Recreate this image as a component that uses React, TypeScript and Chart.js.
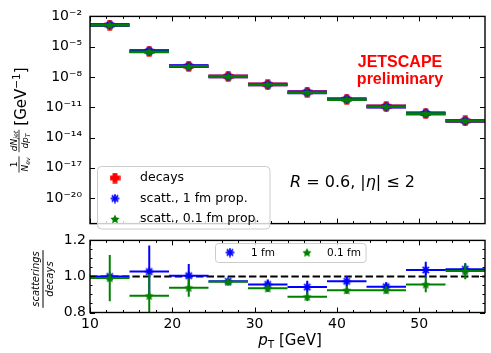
import React, { useEffect, useRef } from 'react';
import { Chart, registerables } from 'chart.js';

Chart.register(...registerables);

const FONT = '"DejaVu Sans", sans-serif';

// ---- data ----
const binLow = [10, 14.8, 19.6, 24.4, 29.2, 34.0, 38.8, 43.6, 48.4, 53.2];
const binHigh = [14.8, 19.6, 24.4, 29.2, 34.0, 38.8, 43.6, 48.4, 53.2, 58.0];
const binCenter = [12.4, 17.2, 22.0, 26.8, 31.6, 36.4, 41.2, 46.0, 50.8, 55.6];

const spectrumDecays = [1.4e-3, 3.5e-6, 1.17e-7, 1.15e-8, 1.86e-9, 3.2e-10, 6.3e-11, 1.23e-11, 2.4e-12, 4.5e-13];
const ratio1fm = [1.0, 1.027, 1.004, 0.973, 0.956, 0.941, 0.973, 0.943, 1.036, 1.04];
const ratio1fmErr = [0.01, 0.145, 0.065, 0.012, 0.025, 0.035, 0.03, 0.025, 0.045, 0.03];
const ratio01fm = [0.991, 0.893, 0.938, 0.97, 0.934, 0.888, 0.924, 0.924, 0.956, 1.03];
const ratio01fmErr = [0.128, 0.12, 0.05, 0.015, 0.02, 0.024, 0.022, 0.02, 0.043, 0.045];

const xRange = [10, 58];
const xMajorTicks = [10, 20, 30, 40, 50];
const xTickLabels = ['10', '20', '30', '40', '50'];
const xMinorTicks = [12, 14, 16, 18, 22, 24, 26, 28, 32, 34, 36, 38, 42, 44, 46, 48, 52, 54, 56];

const yTopRange = [3e-23, 1e-2];
const yTopTicks = [1e-2, 1e-5, 1e-8, 1e-11, 1e-14, 1e-17, 1e-20];
const yTopTickLabels = ['10⁻²', '10⁻⁵', '10⁻⁸', '10⁻¹¹', '10⁻¹⁴', '10⁻¹⁷', '10⁻²⁰'];

const yRatioRange = [0.8, 1.2];
const yRatioTicks = [0.8, 1.0, 1.2];
const yRatioTickLabels = ['0.8', '1.0', '1.2'];
const yRatioMinorTicks = [0.85, 0.9, 0.95, 1.05, 1.1, 1.15];
const ratioReference = [1.0, 1.0];

const legendTop = ['decays', 'scatt., 1 fm prop.', 'scatt., 0.1 fm prop.'];
const legendBottom = ['1 fm', '0.1 fm'];

const RED = '#ff0000';
const BLUE = '#0000ff';
const GREEN = '#008000';

// ---- helpers ----
type Run = { t: string; size: number; italic?: boolean; bold?: boolean; dy?: number };
const fontOf = (r: Run) => `${r.italic ? 'italic ' : ''}${r.bold ? 'bold ' : ''}${r.size}px ${FONT}`;
function runsWidth(ctx: CanvasRenderingContext2D, runs: Run[]) {
  let w = 0;
  for (const r of runs) { ctx.font = fontOf(r); w += ctx.measureText(r.t).width; }
  return w;
}
function drawRuns(ctx: CanvasRenderingContext2D, runs: Run[], x: number, y: number, center = false) {
  const total = runsWidth(ctx, runs);
  let cx = center ? x - total / 2 : x;
  ctx.textAlign = 'left';
  ctx.textBaseline = 'alphabetic';
  for (const r of runs) {
    ctx.font = fontOf(r);
    ctx.fillText(r.t, cx, y + (r.dy ?? 0));
    cx += ctx.measureText(r.t).width;
  }
  return total;
}
function fracWidth(ctx: CanvasRenderingContext2D, num: Run[], den: Run[]) {
  return Math.max(runsWidth(ctx, num), runsWidth(ctx, den)) + 2;
}
function drawFrac(ctx: CanvasRenderingContext2D, num: Run[], den: Run[], x: number, gapN: number, gapD: number, lw: number) {
  const w = fracWidth(ctx, num, den);
  drawRuns(ctx, num, x + w / 2, -gapN, true);
  drawRuns(ctx, den, x + w / 2, gapD, true);
  ctx.lineWidth = lw;
  ctx.beginPath(); ctx.moveTo(x, 0); ctx.lineTo(x + w, 0); ctx.stroke();
  return w;
}

function mk(size: number, draw: (g: CanvasRenderingContext2D, s: number) => void) {
  const c = document.createElement('canvas');
  c.width = size; c.height = size;
  draw(c.getContext('2d')!, size);
  return c;
}
function plusFilled(size: number, color: string) {
  return mk(size, (g, s) => {
    const c = s / 2, h = s * 0.22, r = s / 2 - 0.3;
    g.fillStyle = color;
    g.fillRect(c - h, c - r, 2 * h, 2 * r);
    g.fillRect(c - r, c - h, 2 * r, 2 * h);
  });
}
function asterisk(size: number, color: string) {
  return mk(size, (g, s) => {
    const c = s / 2, r = s / 2 - 0.6;
    g.strokeStyle = color; g.lineWidth = 1.7;
    for (let k = 0; k < 4; k++) {
      const a = (k * Math.PI) / 4;
      g.beginPath();
      g.moveTo(c - r * Math.cos(a), c - r * Math.sin(a));
      g.lineTo(c + r * Math.cos(a), c + r * Math.sin(a));
      g.stroke();
    }
  });
}
function starFilled(size: number, color: string) {
  return mk(size, (g, s) => {
    const c = s / 2, R = s / 2 - 0.2, r = R * 0.5;
    g.fillStyle = color;
    g.beginPath();
    for (let k = 0; k < 10; k++) {
      const a = -Math.PI / 2 + (k * Math.PI) / 5;
      const rr = k % 2 === 0 ? R : r;
      const x = c + rr * Math.cos(a), y = c + rr * Math.sin(a) + s * 0.04;
      if (k === 0) g.moveTo(x, y); else g.lineTo(x, y);
    }
    g.closePath();
    g.fill();
  });
}

function hSeg(lo: number[], hi: number[], y: number[]) {
  const out: any[] = [];
  y.forEach((v, i) => { out.push({ x: lo[i], y: v }, { x: hi[i], y: v }, { x: hi[i], y: null }); });
  return out;
}
function vSeg(x: number[], y: number[], e: number[]) {
  const out: any[] = [];
  y.forEach((v, i) => { out.push({ x: x[i], y: v - e[i] }, { x: x[i], y: v + e[i] }, { x: x[i], y: null }); });
  return out;
}
function pts(x: number[], y: number[]) {
  return y.map((v, i) => ({ x: x[i], y: v }));
}

function framePlugin(id: string, yMajor: number[], yMinor: number[]) {
  return {
    id,
    afterDraw(chart: any) {
      const { ctx, chartArea: a, scales } = chart;
      const xs = scales.x, ys = scales.y;
      ctx.save();
      ctx.strokeStyle = '#000';
      ctx.lineWidth = 1;
      const seg = (x1: number, y1: number, x2: number, y2: number) => {
        ctx.beginPath(); ctx.moveTo(x1, y1); ctx.lineTo(x2, y2); ctx.stroke();
      };
      const xt = (vals: number[], len: number) => vals.forEach((v) => {
        const p = Math.round(xs.getPixelForValue(v)) + 0.5;
        seg(p, a.top, p, a.top + len); seg(p, a.bottom, p, a.bottom - len);
      });
      const yt = (vals: number[], len: number) => vals.forEach((v) => {
        const p = Math.round(ys.getPixelForValue(v)) + 0.5;
        seg(a.left, p, a.left + len, p); seg(a.right, p, a.right - len, p);
      });
      xt(xMajorTicks, 5); xt(xMinorTicks, 2.5);
      yt(yMajor, 5); yt(yMinor, 2.5);
      ctx.lineWidth = 1.4;
      ctx.strokeRect(a.left, a.top, a.right - a.left, a.bottom - a.top);
      ctx.restore();
    },
  };
}

function roundRect(ctx: CanvasRenderingContext2D, x: number, y: number, w: number, h: number, r: number) {
  ctx.beginPath();
  ctx.moveTo(x + r, y);
  ctx.arcTo(x + w, y, x + w, y + h, r);
  ctx.arcTo(x + w, y + h, x, y + h, r);
  ctx.arcTo(x, y + h, x, y, r);
  ctx.arcTo(x, y, x + w, y, r);
  ctx.closePath();
}

export default function App() {
  const topRef = useRef<HTMLCanvasElement>(null);
  const botRef = useRef<HTMLCanvasElement>(null);

  useEffect(() => {
    const mRed = plusFilled(11, RED);
    const mBlue = asterisk(10, BLUE);
    const mGreen = starFilled(10, GREEN);

    const spectrum1fm = spectrumDecays.map((d, i) => d * ratio1fm[i]);
    const spectrum01fm = spectrumDecays.map((d, i) => d * ratio01fm[i]);

    const commonX = {
      type: 'linear' as const,
      min: xRange[0],
      max: xRange[1],
    };

    const topText = {
      id: 'topText',
      afterDraw(chart: any) {
        const ctx: CanvasRenderingContext2D = chart.ctx;
        ctx.save();
        ctx.fillStyle = RED;
        ctx.textAlign = 'center';
        ctx.textBaseline = 'alphabetic';
        ctx.font = 'bold 16px "Liberation Sans", Arial, sans-serif';
        ctx.fillText('JETSCAPE', 400, 66.7);
        ctx.fillText('preliminary', 400, 84);
        ctx.fillStyle = '#000';
        ctx.strokeStyle = '#000';
        drawRuns(ctx, [
          { t: 'R', size: 16, italic: true },
          { t: ' = 0.6, |', size: 16 },
          { t: 'η', size: 16, italic: true },
          { t: '| ≤ 2', size: 16 },
        ], 290, 186.7);

        // y title (rotated)
        ctx.save();
        ctx.translate(19, 120);
        ctx.rotate(-Math.PI / 2);
        const numA: Run[] = [{ t: '1', size: 9 }];
        const denA: Run[] = [{ t: 'N', size: 9, italic: true }, { t: 'ev', size: 6.3, italic: true, dy: 1.6 }];
        const numB: Run[] = [{ t: 'dN', size: 9, italic: true }, { t: 'jet', size: 6.3, italic: true, dy: 1.6 }];
        const denB: Run[] = [{ t: 'dp', size: 9, italic: true }, { t: 'T', size: 6.3, italic: true, dy: 1.6 }];
        const unit: Run[] = [{ t: '[GeV', size: 15 }, { t: '−1', size: 10.5, dy: -6 }, { t: ']', size: 15 }];
        const wA = fracWidth(ctx, numA, denA);
        const wB = fracWidth(ctx, numB, denB);
        const wU = runsWidth(ctx, unit);
        const total = wA + 4 + wB + 4 + wU;
        let x0 = -total / 2;
        drawFrac(ctx, numA, denA, x0, 2.5, 9, 0.8);
        x0 += wA + 4;
        drawFrac(ctx, numB, denB, x0, 2.5, 9, 0.8);
        x0 += wB + 4;
        drawRuns(ctx, unit, x0, 6.5);
        ctx.restore();

        // legend
        ctx.save();
        roundRect(ctx, 97.5, 166.5, 172.5, 62.5, 4);
        ctx.fillStyle = 'rgba(255,255,255,0.8)';
        ctx.fill();
        ctx.strokeStyle = '#cccccc';
        ctx.lineWidth = 1;
        ctx.stroke();
        const marks = [mRed, mBlue, mGreen];
        const ys = [178, 198.5, 219];
        ctx.fillStyle = '#000';
        ctx.font = `12.5px ${FONT}`;
        ctx.textAlign = 'left';
        ctx.textBaseline = 'middle';
        legendTop.forEach((lab, i) => {
          const m = marks[i];
          ctx.drawImage(m, 115 - m.width / 2, ys[i] - m.height / 2);
          ctx.fillText(lab, 140, ys[i]);
        });
        ctx.restore();
        ctx.restore();
      },
    };

    const top = new Chart(topRef.current!, {
      type: 'line',
      data: {
        datasets: [
          { data: hSeg(binLow, binHigh, spectrumDecays), borderColor: RED, borderWidth: 3.6, pointRadius: 0, spanGaps: false, order: 9 },
          { data: pts(binCenter, spectrumDecays), showLine: false, pointStyle: mRed, pointRadius: 5, order: 8 },
          { data: hSeg(binLow, binHigh, spectrum1fm), borderColor: BLUE, borderWidth: 3.6, pointRadius: 0, spanGaps: false, order: 7 },
          { data: pts(binCenter, spectrum1fm), showLine: false, pointStyle: mBlue, pointRadius: 5, order: 6 },
          { data: hSeg(binLow, binHigh, spectrum01fm), borderColor: GREEN, borderWidth: 2.8, pointRadius: 0, spanGaps: false, order: 5 },
          { data: pts(binCenter, spectrum01fm), showLine: false, pointStyle: mGreen, pointRadius: 5, order: 4 },
        ] as any,
      },
      options: {
        responsive: false,
        animation: false,
        events: [],
        layout: { padding: { top: 14, right: 1, bottom: 3, left: 0 } },
        plugins: { legend: { display: false }, tooltip: { enabled: false } },
        scales: {
          x: { ...commonX, display: false },
          y: {
            type: 'logarithmic',
            min: yTopRange[0],
            max: yTopRange[1],
            afterFit: (s: any) => { s.width = 90; },
            afterBuildTicks: (s: any) => { s.ticks = yTopTicks.map((v) => ({ value: v })); },
            ticks: {
              callback: (_v: any, i: number) => yTopTickLabels[i],
              font: { size: 14, family: FONT },
              color: '#000',
              padding: 8,
              autoSkip: false,
            },
            grid: { display: false, drawTicks: false },
            border: { display: false },
          },
        },
      } as any,
      plugins: [framePlugin('frameTop', yTopTicks, []), topText],
    });

    const botText = {
      id: 'botText',
      afterDraw(chart: any) {
        const ctx: CanvasRenderingContext2D = chart.ctx;
        ctx.save();
        ctx.fillStyle = '#000';
        ctx.strokeStyle = '#000';
        // x title
        drawRuns(ctx, [
          { t: 'p', size: 15, italic: true },
          { t: 'T', size: 10.5, dy: 3 },
          { t: ' [GeV]', size: 15 },
        ], 290, 117, true);
        // y title
        ctx.save();
        ctx.translate(43, 50);
        ctx.rotate(-Math.PI / 2);
        const num: Run[] = [{ t: 'scatterings', size: 10, italic: true }];
        const den: Run[] = [{ t: 'decays', size: 10, italic: true }];
        const w = fracWidth(ctx, num, den) + 2;
        drawFrac(ctx, num, den, -w / 2, 4, 9.5, 1);
        ctx.restore();
        // legend
        roundRect(ctx, 215.5, 15.5, 150.5, 19, 3);
        ctx.fillStyle = 'rgba(255,255,255,0.8)';
        ctx.fill();
        ctx.strokeStyle = '#cccccc';
        ctx.lineWidth = 1;
        ctx.stroke();
        ctx.fillStyle = '#000';
        ctx.font = `10.5px ${FONT}`;
        ctx.textAlign = 'left';
        ctx.textBaseline = 'middle';
        ctx.drawImage(mBlue, 230 - mBlue.width / 2, 24.5 - mBlue.height / 2);
        ctx.fillText(legendBottom[0], 251, 25);
        ctx.drawImage(mGreen, 307 - mGreen.width / 2, 24.5 - mGreen.height / 2);
        ctx.fillText(legendBottom[1], 327, 25);
        ctx.restore();
      },
    };

    const bot = new Chart(botRef.current!, {
      type: 'line',
      data: {
        datasets: [
          { data: pts(xRange, ratioReference), borderColor: '#000', borderWidth: 2, borderDash: [7.4, 3.2], pointRadius: 0, order: 100 },
          { data: hSeg(binLow, binHigh, ratio1fm), borderColor: BLUE, borderWidth: 2, pointRadius: 0, spanGaps: false, order: 6 },
          { data: vSeg(binCenter, ratio1fm, ratio1fmErr), borderColor: BLUE, borderWidth: 2, pointRadius: 0, spanGaps: false, order: 5 },
          { data: pts(binCenter, ratio1fm), showLine: false, pointStyle: mBlue, pointRadius: 5, order: 4 },
          { data: hSeg(binLow, binHigh, ratio01fm), borderColor: GREEN, borderWidth: 2, pointRadius: 0, spanGaps: false, order: 3 },
          { data: vSeg(binCenter, ratio01fm, ratio01fmErr), borderColor: GREEN, borderWidth: 2, pointRadius: 0, spanGaps: false, order: 2 },
          { data: pts(binCenter, ratio01fm), showLine: false, pointStyle: mGreen, pointRadius: 5, order: 1 },
        ] as any,
      },
      options: {
        responsive: false,
        animation: false,
        events: [],
        layout: { padding: { top: 9.5, right: 1, bottom: 18.5, left: 0 } },
        plugins: { legend: { display: false }, tooltip: { enabled: false } },
        scales: {
          x: {
            ...commonX,
            afterFit: (s: any) => { s.height = 22; },
            afterBuildTicks: (s: any) => { s.ticks = xMajorTicks.map((v) => ({ value: v })); },
            ticks: {
              callback: (_v: any, i: number) => xTickLabels[i],
              font: { size: 14, family: FONT },
              color: '#000',
              padding: 3,
              autoSkip: false,
              maxRotation: 0,
            },
            grid: { display: false, drawTicks: false },
            border: { display: false },
          },
          y: {
            type: 'linear',
            min: yRatioRange[0],
            max: yRatioRange[1],
            afterFit: (s: any) => { s.width = 90; },
            afterBuildTicks: (s: any) => { s.ticks = yRatioTicks.map((v) => ({ value: v })); },
            ticks: {
              callback: (_v: any, i: number) => yRatioTickLabels[i],
              font: { size: 14, family: FONT },
              color: '#000',
              padding: 4,
              autoSkip: false,
            },
            grid: { display: false, drawTicks: false },
            border: { display: false },
          },
        },
      } as any,
      plugins: [framePlugin('frameBot', yRatioTicks, yRatioMinorTicks), botText],
    });

    return () => {
      top.destroy();
      bot.destroy();
    };
  }, []);

  return (
    <div style={{ position: 'fixed', left: 0, top: 0, width: 491, height: 353, background: '#fff' }}>
      <canvas ref={botRef} width={491} height={125} style={{ position: 'absolute', left: 0, top: 228, width: 491, height: 125 }} />
      <canvas ref={topRef} width={491} height={240} style={{ position: 'absolute', left: 0, top: 0, width: 491, height: 240 }} />
    </div>
  );
}
